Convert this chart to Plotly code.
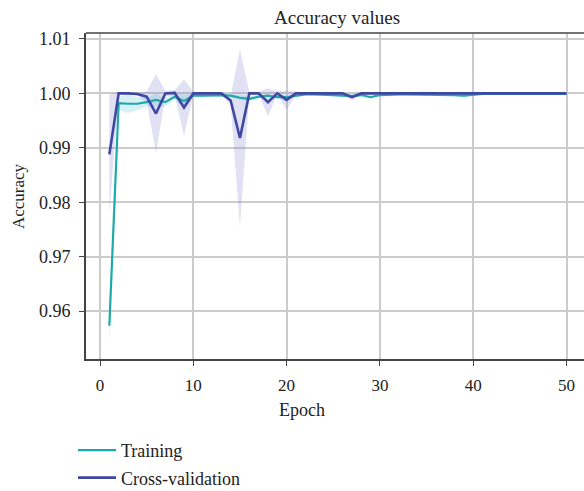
import plotly.graph_objects as go

epochs = list(range(1, 51))

train_mean = [0.9573, 0.9982, 0.9981, 0.9981, 0.9984, 0.9988, 0.9984, 0.9994, 0.9986, 0.9996,
              0.9996, 0.9997, 0.9997, 0.9996, 0.9992, 0.9990, 0.9994, 0.9996, 0.9993, 0.9993,
              0.9996, 0.9998, 0.9998, 0.9998, 0.9997, 0.9996, 0.9995, 0.9997, 0.9993, 0.9997,
              0.9998, 0.9998, 0.9998, 0.9998, 0.9998, 0.9998, 0.9998, 0.9997, 0.9996, 0.9998,
              0.9999, 0.9999, 0.9999, 0.9999, 0.9999, 0.9999, 0.9999, 0.9999, 0.9999, 0.9999]
train_std = [0.0035, 0.0012, 0.0017, 0.0012, 0.0008, 0.0012, 0.0008, 0.0005, 0.0012, 0.0004,
             0.0003, 0.0003, 0.0003, 0.0003, 0.0004, 0.0005, 0.0003, 0.0002, 0.0003, 0.0003,
             0.0002, 0.0002, 0.0002, 0.0002, 0.0002, 0.0002, 0.0003, 0.0002, 0.0003, 0.0002,
             0.0002, 0.0002, 0.0002, 0.0002, 0.0002, 0.0002, 0.0002, 0.0002, 0.0003, 0.0002,
             0.0001, 0.0001, 0.0001, 0.0001, 0.0001, 0.0001, 0.0001, 0.0001, 0.0001, 0.0001]

cv_mean = [0.9888, 1.0000, 1.0000, 0.9999, 0.9994, 0.9963, 1.0000, 1.0001, 0.9974, 1.0000,
           1.0000, 1.0000, 1.0000, 0.9987, 0.9918, 1.0000, 1.0000, 0.9984, 1.0000, 0.9988,
           1.0000, 1.0000, 1.0000, 1.0000, 1.0000, 1.0000, 0.9993, 1.0000, 1.0000, 1.0000,
           1.0000, 1.0000, 1.0000, 1.0000, 1.0000, 1.0000, 1.0000, 1.0000, 1.0000, 1.0000,
           1.0000, 1.0000, 1.0000, 1.0000, 1.0000, 1.0000, 1.0000, 1.0000, 1.0000, 1.0000]
cv_std = [0.0110, 0.0003, 0.0002, 0.0003, 0.0010, 0.0072, 0.0005, 0.0005, 0.0052, 0.0003,
          0.0002, 0.0002, 0.0002, 0.0008, 0.0163, 0.0003, 0.0003, 0.0026, 0.0003, 0.0018,
          0.0003, 0.0002, 0.0002, 0.0002, 0.0002, 0.0002, 0.0006, 0.0002, 0.0001, 0.0001,
          0.0001, 0.0001, 0.0001, 0.0001, 0.0001, 0.0001, 0.0001, 0.0001, 0.0001, 0.0001,
          0.0001, 0.0001, 0.0001, 0.0001, 0.0001, 0.0001, 0.0001, 0.0001, 0.0001, 0.0001]

x_ticks = [0, 10, 20, 30, 40, 50]
y_ticks = [0.96, 0.97, 0.98, 0.99, 1.00, 1.01]
y_tick_labels = ["0.96", "0.97", "0.98", "0.99", "1.00", "1.01"]

TEAL = "#1ea9aa"
BLUE = "#3f47a3"
FONT = "Liberation Serif, Times New Roman, serif"

W, H = 584, 491
L, R, T, B = 86, 0, 33, 132
PW, PH = W - L - R, H - T - B


def band(mean, std):
    upper = [m + s for m, s in zip(mean, std)]
    lower = [m - s for m, s in zip(mean, std)]
    return epochs + epochs[::-1], upper + lower[::-1]


fig = go.Figure()

bx, by = band(cv_mean, cv_std)
fig.add_trace(go.Scatter(x=bx, y=by, fill="toself", mode="lines", line=dict(width=0),
                         fillcolor="rgba(120,120,200,0.22)", showlegend=False, hoverinfo="skip"))
bx, by = band(train_mean, train_std)
fig.add_trace(go.Scatter(x=bx, y=by, fill="toself", mode="lines", line=dict(width=0),
                         fillcolor="rgba(90,195,215,0.25)", showlegend=False, hoverinfo="skip"))

fig.add_trace(go.Scatter(x=epochs, y=train_mean, mode="lines", name="Training",
                         legendgroup="t", line=dict(color=TEAL, width=2.2)))
fig.add_trace(go.Scatter(x=epochs, y=cv_mean, mode="lines", name="Cross-validation",
                         legendgroup="c", line=dict(color=BLUE, width=2.6)))

fig.update_layout(
    width=W, height=H,
    margin=dict(l=L, r=R, t=T, b=B, autoexpand=False),
    paper_bgcolor="white", plot_bgcolor="white",
    font=dict(family=FONT, size=17, color="#222222"),
    showlegend=True,
    legend=dict(xref="container", yref="container",
                x=73 / W, y=1 - 432 / H, xanchor="left", yanchor="top",
                orientation="v", font=dict(size=18, family=FONT, color="#222222"),
                bgcolor="rgba(0,0,0,0)", tracegroupgap=1, itemwidth=38),
    annotations=[
        dict(text="Accuracy values", x=(337 - L) / PW, y=1 + (T - 17) / PH,
             xref="paper", yref="paper", xanchor="center", yanchor="middle",
             showarrow=False, font=dict(size=19, family=FONT)),
        dict(text="Epoch", x=(302 - L) / PW, y=-(410 - (H - B)) / PH, xref="paper", yref="paper",
             xanchor="center", yanchor="middle", showarrow=False, font=dict(size=18, family=FONT)),
        dict(text="Accuracy", x=-(L - 18) / PW, y=0.5, xref="paper", yref="paper",
             xanchor="center", yanchor="middle", textangle=-90, showarrow=False,
             font=dict(size=17, family=FONT)),
    ],
    shapes=[
        dict(type="line", xref="paper", yref="paper", x0=0, x1=1, y0=1, y1=1,
             line=dict(color="#444444", width=1.6)),
    ],
)

fig.update_xaxes(range=[-1.5, 51.87], tickmode="array", tickvals=x_ticks,
                 ticktext=[str(v) for v in x_ticks],
                 showgrid=True, gridcolor="#cccccc", gridwidth=1.5,
                 showline=True, linecolor="#444444", linewidth=1.6,
                 ticks="outside", ticklen=5, tickcolor="#444444", tickwidth=1.2,
                 ticklabelstandoff=5,
                 zeroline=False, tickfont=dict(size=17, family=FONT, color="#222222"))
fig.update_yaxes(range=[0.9512, 1.0111], tickmode="array", tickvals=y_ticks,
                 ticktext=y_tick_labels,
                 showgrid=True, gridcolor="#cccccc", gridwidth=1.5,
                 showline=True, linecolor="#444444", linewidth=1.6,
                 ticks="outside", ticklen=5, tickcolor="#444444", tickwidth=1.2,
                 ticklabelstandoff=5,
                 zeroline=False, tickfont=dict(size=18, family=FONT, color="#222222"))

fig.write_html("out.html")
